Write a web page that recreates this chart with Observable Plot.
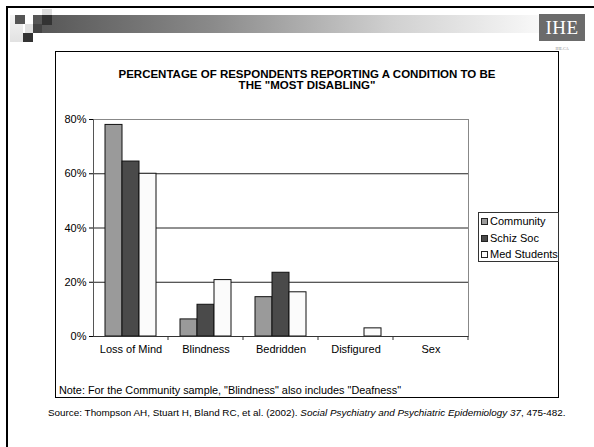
<!DOCTYPE html>
<html>
<head>
<meta charset="utf-8">
<script src="https://cdn.jsdelivr.net/npm/d3@7"></script>
<script src="https://cdn.jsdelivr.net/npm/@observablehq/plot@0.6"></script>
<style>
  html, body { margin: 0; padding: 0; background: #fff; }
  #slide { position: relative; width: 594px; height: 447px; overflow: hidden; background: #fff;
           font-family: "Liberation Sans", Arial, sans-serif; color: #000; }
  .abs { position: absolute; }
  #topline { left: 6px; top: 6px; width: 588px; height: 2px; background: #000; }
  #leftline { left: 6px; top: 6px; width: 2px; height: 441px; background: #000; }
  #band { left: 33px; top: 15px; width: 512px; height: 18px;
          background: linear-gradient(to right, #555 0%, #8a8a8a 35%, #d0d0d0 70%, #fafafa 100%); }
  .sq { position: absolute; }
  #logo { left: 539px; top: 14px; width: 46px; height: 27px; background: #6b6b6b; color: #fff;
          font-family: "Liberation Serif", "DejaVu Serif", serif; font-size: 19px; line-height: 27px;
          text-align: center; letter-spacing: 0.5px; }
  #logosub { left: 545px; top: 46px; width: 34px; text-align: center; font-size: 4px; color: #888;
             font-family: "Liberation Serif", serif; }
  #box { left: 55px; top: 51px; width: 504px; height: 347px; border: 1.5px solid #000; box-sizing: border-box; }
  #title { left: 55px; top: 68.5px; width: 504px; text-align: center; font-weight: bold; font-size: 11.5px; line-height: 11.7px; }
  #chart { left: 0; top: 100px; }
  #legend { left: 478px; top: 212px; width: 81px; height: 50px; border: 1px solid #333; box-sizing: border-box;
            background: #fff; font-size: 11px; }
  .row { position: absolute; left: 2px; height: 12px; line-height: 12px; white-space: nowrap; }
  .sw { display: inline-block; width: 5px; height: 5px; border: 1px solid #222; margin-right: 2px; vertical-align: 0px; }
  #note { left: 59px; top: 384px; font-size: 10.85px; white-space: nowrap; }
  #source { left: 48px; top: 407px; font-size: 9.9px; white-space: nowrap; }
</style>
</head>
<body>
<div id="slide">
  <div class="abs" id="band"></div>
  <div class="sq" style="left:10px;top:15px;width:13px;height:27px;background:linear-gradient(#f4f4f4,#e2e2e2);"></div>
  <div class="sq" style="left:15px;top:15px;width:10px;height:9px;background:#555;"></div>
  <div class="sq" style="left:42px;top:9px;width:10px;height:6px;background:#dcdcdc;"></div>
  <div class="sq" style="left:42px;top:15px;width:10px;height:10px;background:#333;"></div>
  <div class="sq" style="left:25px;top:24px;width:8px;height:9px;background:#e0e0e0;"></div>
  <div class="sq" style="left:33px;top:24px;width:9px;height:9px;background:#444;"></div>
  <div class="sq" style="left:23px;top:33px;width:10px;height:9px;background:#333;"></div>
  <div class="abs" id="topline"></div>
  <div class="abs" id="leftline"></div>
  <div class="abs" id="logo">IHE</div>
  <div class="abs" id="logosub">IHE.CA</div>
  <div class="abs" id="box"></div>
  <div class="abs" id="title">PERCENTAGE OF RESPONDENTS REPORTING A CONDITION TO BE<br>THE "MOST DISABLING"</div>
  <div class="abs" id="chart"></div>
  <div class="abs" id="legend"></div>
  <div class="abs" id="note">Note: For the Community sample, "Blindness" also includes "Deafness"</div>
  <div class="abs" id="source">Source: Thompson AH, Stuart H, Bland RC, et al. (2002). <i>Social Psychiatry and Psychiatric Epidemiology 37</i>, 475-482.</div>
</div>
<script>
// Conditions respondents were asked about
const categories = ["Loss of Mind", "Blindness", "Bedridden", "Disfigured", "Sex"];
// Respondent groups
const series = ["Community", "Schiz Soc", "Med Students"];
// Percent naming each condition as the most disabling
const community = [78, 6.3, 14.5, 0, 0];
const schizSoc = [64.5, 11.7, 23.5, 0, 0];
const medStudents = [60, 20.8, 16.3, 3, 0];
// Y axis ticks (percent)
const yTicks = [0, 20, 40, 60, 80];
const seriesColors = ["#9a9a9a", "#4a4a4a", "#fbfbfb"];

const values = [community, schizSoc, medStudents];
const rows = categories.flatMap((category, i) =>
  series.map((s, j) => ({category, series: s, value: values[j][i]}))
);

// Small tick below the baseline at the right edge of each category band
function boundaryTick(index, scales, channels, dims) {
  const x = dims.width - dims.marginRight;
  const y = scales.y(0);
  const line = document.createElementNS("http://www.w3.org/2000/svg", "line");
  line.setAttribute("x1", x); line.setAttribute("x2", x);
  line.setAttribute("y1", y); line.setAttribute("y2", y + 4);
  line.setAttribute("stroke", "#333");
  return line;
}

const chart = Plot.plot({
  width: 594,
  height: 270,
  marginLeft: 93,
  marginRight: 126,
  marginTop: 19,
  marginBottom: 34,
  style: {fontFamily: "'Liberation Sans', Arial, sans-serif", fontSize: "11px", color: "#000", background: "transparent"},
  fx: {domain: categories, padding: 0, label: null},
  x: {domain: series, paddingInner: 0, paddingOuter: 0.68, axis: null},
  y: {domain: [0, 80], label: null},
  color: {domain: series, range: seriesColors},
  marks: [
    Plot.ruleY([20, 40, 60], {stroke: "#222"}),
    Plot.ruleY([80], {stroke: "#888"}),
    Plot.frame({anchor: "right", facetAnchor: "right", stroke: "#888"}),
    Plot.frame({anchor: "left", facetAnchor: "left", stroke: "#555"}),
    Plot.barY(rows, {fx: "category", x: "series", y: "value", fill: "series", stroke: "#111", strokeWidth: 1}),
    Plot.ruleY([0], {stroke: "#333"}),
    boundaryTick,
    Plot.axisY({ticks: yTicks, tickFormat: d => d + "%", tickSize: 4, tickPadding: 3, label: null}),
    Plot.axisFx({anchor: "bottom", tickSize: 0, tickPadding: 9, label: null})
  ]
});
document.getElementById("chart").appendChild(chart);

// Legend built from the same series and colours
const legend = document.getElementById("legend");
series.forEach((s, i) => {
  const row = document.createElement("div");
  row.className = "row";
  row.style.top = (2 + i * 16.5) + "px";
  const sw = document.createElement("span");
  sw.className = "sw";
  sw.style.background = seriesColors[i];
  row.appendChild(sw);
  row.appendChild(document.createTextNode(s));
  legend.appendChild(row);
});
</script>
</body>
</html>
